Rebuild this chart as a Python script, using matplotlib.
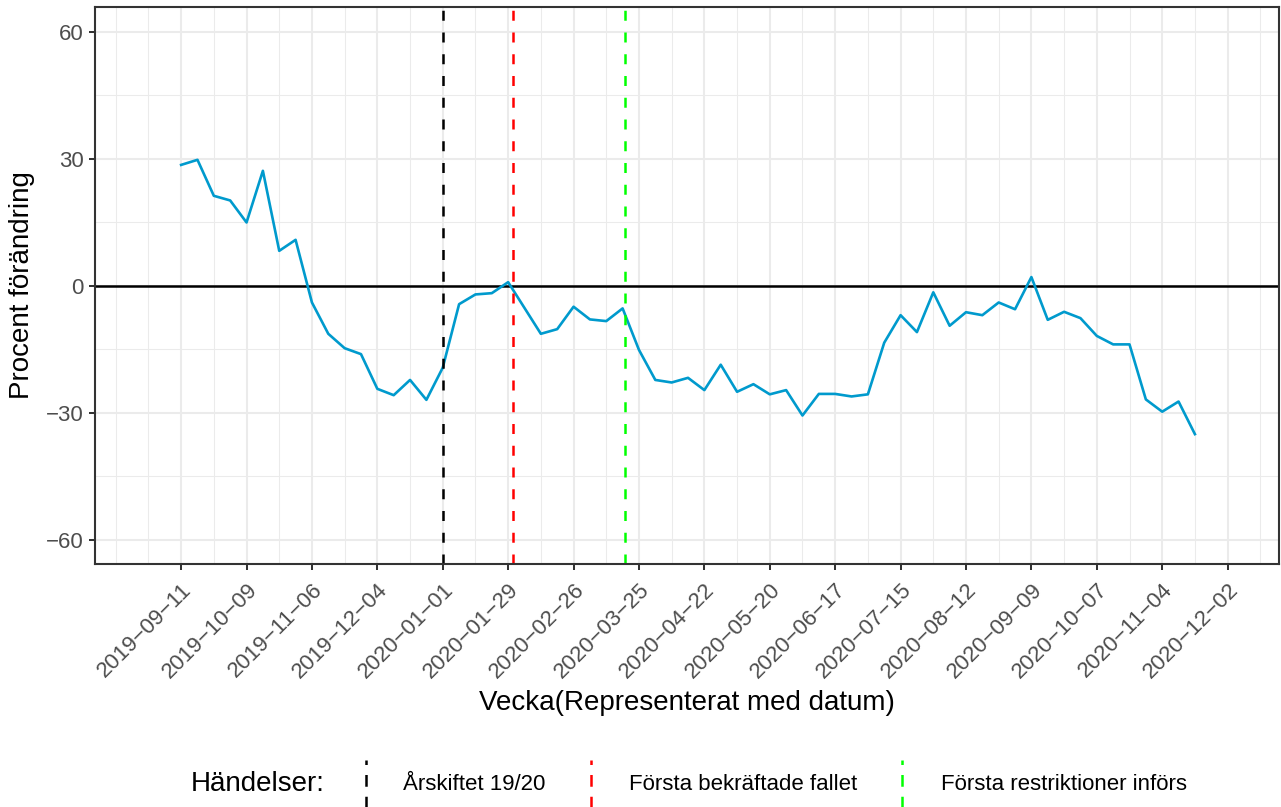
import matplotlib
matplotlib.use('Agg')
import matplotlib.pyplot as plt
from matplotlib.lines import Line2D
import matplotlib.transforms as mtransforms
import pandas as pd

plt.rcParams['font.family'] = ['Liberation Sans', 'DejaVu Sans']

# ---------------- data ----------------
start_week = '2019-09-11'
n_weeks = 63
weeks = pd.date_range(start_week, periods=n_weeks, freq='7D')

pct_change = [
    28.6, 29.8, 21.3, 20.2, 15.0, 27.2, 8.3, 10.9, -3.9, -11.3,
    -14.7, -16.1, -24.3, -25.8, -22.2, -26.9, -19.3, -4.3, -2.0, -1.7,
    0.9, -5.2, -11.3, -10.2, -4.9, -7.9, -8.3, -5.3, -15.1, -22.2,
    -22.8, -21.7, -24.6, -18.6, -25.0, -23.2, -25.6, -24.6, -30.6, -25.5,
    -25.5, -26.1, -25.6, -13.4, -6.9, -10.9, -1.5, -9.4, -6.2, -6.9,
    -3.9, -5.5, 2.1, -8.0, -6.1, -7.6, -11.8, -13.8, -13.8, -26.8,
    -29.7, -27.3, -35.0,
]

x_tick_labels = [
    '2019-09-11', '2019-10-09', '2019-11-06', '2019-12-04', '2020-01-01',
    '2020-01-29', '2020-02-26', '2020-03-25', '2020-04-22', '2020-05-20',
    '2020-06-17', '2020-07-15', '2020-08-12', '2020-09-09', '2020-10-07',
    '2020-11-04', '2020-12-02',
]
y_ticks = [-60, -30, 0, 30, 60]
y_minor = [-45, -15, 15, 45]

event_dates = ['2020-01-01', '2020-01-31', '2020-03-19']
event_labels = ['Årskiftet 19/20', 'Första bekräftade fallet', 'Första restriktioner införs']
event_colors = ['#000000', '#FF0000', '#00FF00']

x_title = 'Vecka(Representerat med datum)'
y_title = 'Procent förändring'
legend_title = 'Händelser:'

# ---------------- figure ----------------
W, H = 1281, 807
fig = plt.figure(figsize=(W / 100, H / 100), dpi=100)
L, R, T, B = 94.7, 1279.0, 7.0, 564.3
ax = fig.add_axes([L / W, 1 - B / H, (R - L) / W, (B - T) / H])

grid_col = '#EBEBEB'
major_dates = pd.to_datetime(x_tick_labels)
minor_dates = pd.date_range('2019-08-14', '2020-12-16', freq='14D')
minor_dates = [d for d in minor_dates if d not in set(major_dates)]

ax.set_xlim(pd.Timestamp('2019-08-05'), pd.Timestamp('2020-12-24'))
ax.set_ylim(-65.75, 65.9)

ax.set_xticks(major_dates)
ax.set_xticklabels([s.replace('-', '\u2212') for s in x_tick_labels],
                   rotation=45, ha='right', va='top', rotation_mode='anchor')
# small shift right so the label ends just past the tick, as in the reference
offset = mtransforms.ScaledTranslation(2 / 100, 0, fig.dpi_scale_trans)
for lab in ax.get_xticklabels():
    lab.set_transform(lab.get_transform() + offset)
ax.set_xticks(minor_dates, minor=True)
ax.set_yticks(y_ticks)
ax.set_yticklabels([str(v).replace('-', '\u2212') for v in y_ticks])
ax.set_yticks(y_minor, minor=True)

ax.grid(which='major', color=grid_col, linewidth=1.5, zorder=0)
ax.grid(which='minor', color=grid_col, linewidth=0.75, zorder=0)
ax.set_axisbelow(True)

ax.tick_params(which='minor', length=0)
ax.tick_params(which='major', length=4, width=1.45, color='#333333',
               labelcolor='#4D4D4D', labelsize=16)
ax.tick_params(axis='x', which='major', pad=7)
ax.tick_params(axis='y', which='major', pad=4)
for s in ax.spines.values():
    s.set_color('#333333')
    s.set_linewidth(1.5)
    s.set_zorder(5)

# zero line
ax.axhline(0, color='black', linewidth=1.8, zorder=2)

# data line
ax.plot(weeks, pct_change, color='#009ACD', linewidth=1.9, zorder=3,
        solid_joinstyle='round')

# event lines
for d, c in zip(event_dates, event_colors):
    ax.axvline(pd.Timestamp(d), color=c, linewidth=1.8,
               linestyle=(0, (4.0, 4.7)), zorder=4)

# axis titles
fig.text(22 / W, 1 - 285.5 / H, y_title, rotation=90, ha='center',
         va='center', fontsize=20, color='black')
fig.text(687 / W, 1 - 703 / H, x_title, ha='center', va='center',
         fontsize=20, color='black')

# legend (bottom, horizontal)
leg_y = 784
fig.text(191 / W, 1 - leg_y / H, legend_title, ha='left', va='center',
         fontsize=20, color='black')
key_x = [366, 591, 902]
lab_x = [403, 629, 941]
for kx, lx, c, lab in zip(key_x, lab_x, event_colors, event_labels):
    ln = Line2D([kx / W, kx / W], [1 - 808 / H, 1 - 760 / H],
                transform=fig.transFigure, color=c, linewidth=1.8,
                linestyle=(0, (4.7, 4.0)))
    fig.add_artist(ln)
    fig.text(lx / W, 1 - leg_y / H, lab, ha='left', va='center',
             fontsize=16, color='black')

fig.savefig('out.png', dpi=100)
